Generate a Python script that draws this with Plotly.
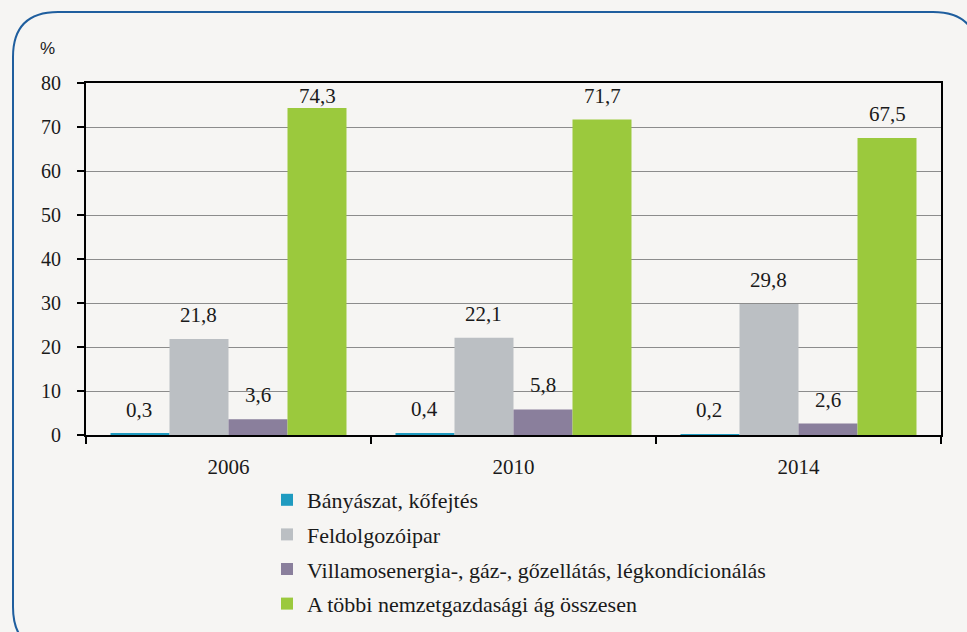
import plotly.graph_objects as go

years = ["2006", "2010", "2014"]
series_names = [
    "Bányászat, kőfejtés",
    "Feldolgozóipar",
    "Villamosenergia-, gáz-, gőzellátás, légkondícionálás",
    "A többi nemzetgazdasági ág összesen",
]
banyaszat = [0.3, 0.4, 0.2]
feldolgozo = [21.8, 22.1, 29.8]
villamos = [3.6, 5.8, 2.6]
tobbi = [74.3, 71.7, 67.5]
y_ticks = [0, 10, 20, 30, 40, 50, 60, 70, 80]

values = [banyaszat, feldolgozo, villamos, tobbi]
colors = ["#1F9BC0", "#BBBFC3", "#8A7F9C", "#9BC93D"]

W, H = 967, 632
L, R, T, B = 86, 941, 83, 435
YMAX = 80
SERIF = "Liberation Serif, DejaVu Serif, serif"

fig = go.Figure()
for i, (name, vals, col) in enumerate(zip(series_names, values, colors)):
    fig.add_trace(go.Bar(
        x=years, y=vals, name=name, marker_color=col,
        marker_line_width=0, legendgroup=str(i),
        offsetgroup=str(i),
    ))

# value labels (kept inside the plot area like the original)
n = len(series_names)
for i, vals in enumerate(values):
    for j, v in enumerate(vals):
        bar_top_px = B - v / YMAX * (B - T)
        shift = min(10, bar_top_px - T - 27)
        fig.add_annotation(
            x=j, y=v, xref="x", yref="y", text=f"{v:.1f}".replace(".", ","),
            showarrow=False, yanchor="bottom", yshift=shift,
            xshift=(i - (n - 1) / 2) * 59.5,
            font=dict(family=SERIF, size=21, color="#1a1a1a"),
        )

def px_to_paper(px, py):
    return (px - L) / (R - L), (B - py) / (B - T)

# rounded border
x0, y0 = px_to_paper(13, 12)
x1, y1 = px_to_paper(978, 652)
rx = 45 / (R - L)
ry = 45 / (B - T)
path = (f"M {x0},{y1 + ry} L {x0},{y0 - ry} Q {x0},{y0} {x0 + rx},{y0} "
        f"L {x1 - rx},{y0} Q {x1},{y0} {x1},{y0 - ry} "
        f"L {x1},{y1 + ry} Q {x1},{y1} {x1 - rx},{y1} "
        f"L {x0 + rx},{y1} Q {x0},{y1} {x0},{y1 + ry} Z")
fig.add_shape(type="path", path=path, xref="paper", yref="paper",
              line=dict(color="#1F5E9E", width=2), layer="below")

px_, py_ = px_to_paper(47, 48)
fig.add_annotation(x=px_, y=py_, xref="paper", yref="paper", text="%",
                   showarrow=False, xanchor="center", yanchor="middle",
                   font=dict(family="Liberation Sans, Arial, sans-serif", size=17, color="#1a1a1a"))

fig.update_layout(
    width=W, height=H,
    margin=dict(l=L, r=W - R, t=T, b=H - B, autoexpand=False),
    paper_bgcolor="#F6F5F3", plot_bgcolor="#F6F5F3",
    barmode="group", bargap=0.172, bargroupgap=0,
    showlegend=True,
    legend=dict(
        x=(267 - L) / (R - L), y=(B - 479) / (B - T), xanchor="left", yanchor="top",
        orientation="v", bgcolor="rgba(0,0,0,0)", tracegroupgap=3,
        font=dict(family=SERIF, size=22, color="#1a1a1a"),
        itemwidth=30,
    ),
    xaxis=dict(
        type="category", tickson="boundaries", ticks="outside", ticklen=7,
        tickcolor="#000", tickwidth=1.5, ticklabelstandoff=12,
        showline=True, linecolor="#000", linewidth=2, mirror=True,
        tickfont=dict(family=SERIF, size=21, color="#1a1a1a"),
        showgrid=False,
    ),
    yaxis=dict(
        range=[0, YMAX], tickvals=y_ticks, ticks="outside", ticklen=7,
        tickcolor="#000", tickwidth=1.5, ticklabelstandoff=12,
        showline=True, linecolor="#000", linewidth=2, mirror=True,
        gridcolor="#8C8C8C", gridwidth=1,
        tickfont=dict(family=SERIF, size=20, color="#1a1a1a"),
        zeroline=False,
    ),
)

fig.write_html("out.html", config={"displayModeBar": False},
               post_script="document.body.style.margin='0';document.body.style.background='#F6F5F3';")
